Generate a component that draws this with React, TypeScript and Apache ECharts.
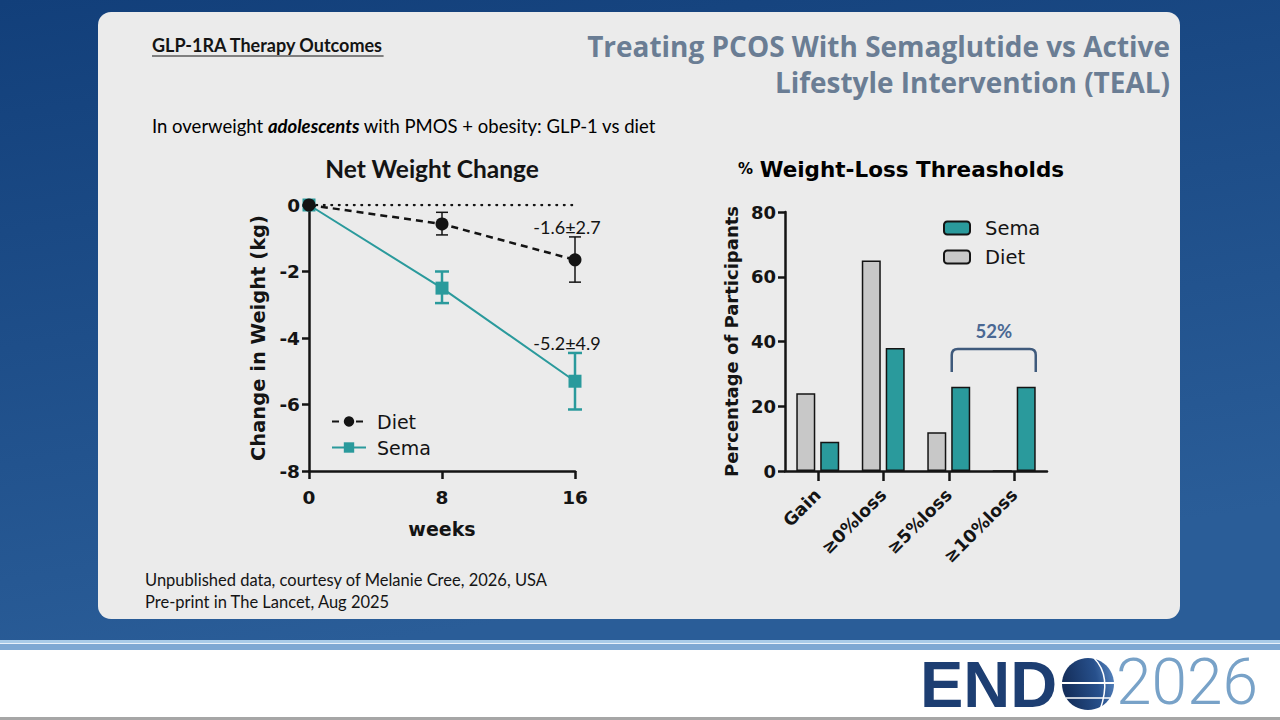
import React, { useEffect, useRef } from 'react';
import * as echarts from 'echarts';

// ---- Left chart: Net Weight Change ----
const weeks = [0, 8, 16];
const dietMean = [0, -0.57, -1.65];
const dietLow = [0, -0.9, -2.32];
const dietHigh = [0, -0.22, -0.96];
const semaMean = [0, -2.5, -5.3];
const semaLow = [0, -2.95, -6.15];
const semaHigh = [0, -2.0, -4.45];
const annotWeek = [16, 16];
const annotValue = [-0.66, -4.15];
const annotTexts = ['-1.6±2.7', '-5.2±4.9'];

// ---- Right chart: % Weight-Loss Thresholds ----
const thresholdCats = ['Gain', '≥0%loss', '≥5%loss', '≥10%loss'];
const dietPct = [24, 65, 12, 0];
const semaPct = [9, 38, 26, 26];
const bracketFrom = 2;
const bracketTo = 3;
const bracketTop = 37.7;
const bracketBottom = 30.6;
const bracketLabel = '52%';

const TITLE_1 = 'Treating PCOS With Semaglutide vs Active';
const TITLE_2 = 'Lifestyle Intervention (TEAL)';

const TEAL = '#2a9a9c';
const INK = '#141414';
const DJ = '"DejaVu Sans", "Liberation Sans", sans-serif';
const CAL = 'Lato, "Open Sans", sans-serif';

function measure(text: string, font: string): number {
  const c = document.createElement('canvas').getContext('2d');
  if (!c) return text.length * 9;
  c.font = font;
  return c.measureText(text).width;
}

export default function App() {
  const ref = useRef<HTMLDivElement>(null);
  useEffect(() => {
    document.body.style.margin = '0';
    const chart = echarts.init(ref.current!, undefined, { renderer: 'svg' });
    const headFont = `bold 18px Lato`;
    const headText = 'GLP-1RA Therapy Outcomes';
    const headW = measure(headText, headFont);
    const titleFamily = '"Open Sans", Lato, sans-serif';
    let titleSize = (583 / measure(TITLE_1, `bold 100px ${titleFamily}`)) * 100;
    if (!isFinite(titleSize) || titleSize > 29) titleSize = 29;
    if (titleSize < 24) titleSize = 24;

    const axisLabelStyle = { fontFamily: DJ, fontWeight: 'bold' as const, fontSize: 18.5, color: INK };

    const option: any = {
      animation: false,
      backgroundColor: '#1b4a85',
      graphic: [
        {
          type: 'rect', z: -20, shape: { x: 0, y: 0, width: 1280, height: 641 },
          style: { fill: new echarts.graphic.LinearGradient(0, 0, 0.3, 1, [{ offset: 0, color: '#123f7a' }, { offset: 1, color: '#2a5d98' }]) },
        },
        { type: 'rect', z: -19, shape: { x: 0, y: 640, width: 1280, height: 3 }, style: { fill: '#a9cbe8' } },
        { type: 'rect', z: -19, shape: { x: 0, y: 643, width: 1280, height: 1 }, style: { fill: '#e8f1fa' } },
        { type: 'rect', z: -19, shape: { x: 0, y: 644, width: 1280, height: 6 }, style: { fill: '#7ea8d3' } },
        { type: 'rect', z: -19, shape: { x: 0, y: 650, width: 1280, height: 70 }, style: { fill: '#ffffff' } },
        { type: 'rect', z: -19, shape: { x: 0, y: 717, width: 1280, height: 3 }, style: { fill: '#a6a6a6' } },
        { type: 'rect', z: -18, shape: { x: 98, y: 12, width: 1082, height: 607, r: 13 }, style: { fill: '#ebebeb' } },
        // header
        { type: 'text', x: 152, y: 45, style: { text: headText, font: headFont, fill: INK, verticalAlign: 'middle' } },
        { type: 'line', shape: { x1: 152, y1: 56, x2: 152 + headW, y2: 56 }, style: { stroke: INK, lineWidth: 1.2 } },
        {
          type: 'text', x: 1170, y: 46,
          style: { text: TITLE_1, fontFamily: titleFamily, fontWeight: 'bold', fontSize: titleSize, fill: '#6a7d94', align: 'right', verticalAlign: 'middle' },
        },
        {
          type: 'text', x: 1170, y: 82,
          style: { text: TITLE_2, fontFamily: titleFamily, fontWeight: 'bold', fontSize: titleSize, fill: '#6a7d94', align: 'right', verticalAlign: 'middle' },
        },
        {
          type: 'text', x: 152, y: 126,
          style: {
            text: '{a|In overweight }{b|adolescents}{a| with PMOS + obesity: GLP-1 vs diet}',
            verticalAlign: 'middle',
            rich: {
              a: { fontFamily: CAL, fontSize: 18.5, color: INK },
              b: { fontFamily: CAL, fontSize: 18.5, color: INK, fontWeight: 'bold', fontStyle: 'italic' },
            },
          },
        },
        // footer
        { type: 'text', x: 145, y: 580, style: { text: 'Unpublished data, courtesy of Melanie Cree, 2026, USA', fontFamily: CAL, fontSize: 16.5, fill: INK, verticalAlign: 'middle' } },
        { type: 'text', x: 145, y: 602, style: { text: 'Pre-print in The Lancet, Aug 2025', fontFamily: CAL, fontSize: 16.5, fill: INK, verticalAlign: 'middle' } },
        // chart titles
        { type: 'text', x: 432, y: 168, style: { text: 'Net Weight Change', font: 'bold 24.5px Lato', fill: INK, align: 'center', verticalAlign: 'middle' } },
        {
          type: 'text', x: 738, y: 169,
          style: {
            text: '{p|%}  {t|Weight-Loss Threasholds}',
            verticalAlign: 'middle',
            rich: {
              p: { fontFamily: DJ, fontSize: 15, fontWeight: 'bold', color: INK },
              t: { fontFamily: DJ, fontSize: 21.5, fontWeight: 'bold', color: INK },
            },
          },
        },
        // logo
        { type: 'text', x: 920, y: 684, style: { text: 'END', font: 'bold 65px "Liberation Sans"', lineHeight: 50, fill: '#1d3e72', verticalAlign: 'middle' } },
        {
          type: 'circle', shape: { cx: 1088, cy: 684, r: 26 },
          style: { fill: new echarts.graphic.LinearGradient(0, 0.2, 1, 0, [{ offset: 0, color: '#152f5c' }, { offset: 0.6, color: '#27508c' }, { offset: 1, color: '#5d8cc6' }]) },
        },
        { type: 'line', shape: { x1: 1062, y1: 683, x2: 1114, y2: 683 }, style: { stroke: '#ffffff', lineWidth: 2 } },
        { type: 'line', shape: { x1: 1066, y1: 698, x2: 1110, y2: 698 }, style: { stroke: '#ffffff', lineWidth: 1.5 } },
        { type: 'bezierCurve', shape: { x1: 1094, y1: 658, cpx1: 1112, cpy1: 676, x2: 1100, y2: 710 }, style: { stroke: '#ffffff', lineWidth: 1.5, fill: 'none' } },
        { type: 'text', x: 1116, y: 682, style: { text: '2026', fontFamily: 'Roboto', fontWeight: 300, fontSize: 64, lineHeight: 50, fill: '#78a2c8', verticalAlign: 'middle' } },
      ],
      legend: [
        {
          data: ['Diet', 'Sema'], orient: 'vertical', left: 326, top: 407, itemWidth: 34, itemHeight: 13, itemGap: 7,
          textStyle: { fontFamily: DJ, fontSize: 19, color: INK, padding: [0, 0, 0, 6] }, selectedMode: false,
        },
        {
          data: ['Sema (%)', 'Diet (%)'], orient: 'vertical', left: 938, top: 213, itemWidth: 26, itemHeight: 13, itemGap: 9,
          formatter: (n: string) => n.replace(' (%)', ''),
          textStyle: { fontFamily: DJ, fontSize: 19.5, color: INK, padding: [0, 0, 0, 10] }, selectedMode: false,
        },
      ],
      grid: [
        { left: 309, top: 205, width: 266, height: 266 },
        { left: 785, top: 212, width: 262, height: 259 },
      ],
      xAxis: [
        {
          type: 'value', gridIndex: 0, min: 0, max: 16, interval: 8,
          axisLine: { show: true, onZero: false, lineStyle: { color: INK, width: 2.5 } },
          axisTick: { show: true, length: 8, lineStyle: { color: INK, width: 2.5 } },
          axisLabel: { ...axisLabelStyle, margin: 17 },
          splitLine: { show: false },
          name: 'weeks', nameLocation: 'middle', nameGap: 48,
          nameTextStyle: { fontFamily: DJ, fontWeight: 'bold', fontSize: 19, color: INK },
        },
        {
          type: 'category', gridIndex: 1, data: thresholdCats,
          axisLine: { show: true, lineStyle: { color: INK, width: 2.5 } },
          axisTick: { show: true, alignWithLabel: true, length: 10, lineStyle: { color: INK, width: 2.5 } },
          axisLabel: { ...axisLabelStyle, fontSize: 17.5, rotate: 45, margin: 21, interval: 0 },
        },
      ],
      yAxis: [
        {
          type: 'value', gridIndex: 0, min: -8, max: 0, interval: 2,
          axisLine: { show: true, lineStyle: { color: INK, width: 2.5 } },
          axisTick: { show: true, length: 7, lineStyle: { color: INK, width: 2.5 } },
          axisLabel: { ...axisLabelStyle, margin: 9 },
          splitLine: { show: false },
          name: 'Change in Weight (kg)', nameLocation: 'middle', nameGap: 41, nameRotate: 90,
          nameTextStyle: { fontFamily: DJ, fontWeight: 'bold', fontSize: 19.5, color: INK },
        },
        {
          type: 'value', gridIndex: 1, min: 0, max: 80, interval: 20,
          axisLine: { show: true, lineStyle: { color: INK, width: 2.5 } },
          axisTick: { show: true, length: 7, lineStyle: { color: INK, width: 2.5 } },
          axisLabel: { ...axisLabelStyle, fontSize: 18, margin: 9 },
          splitLine: { show: false },
          name: 'Percentage of Participants', nameLocation: 'middle', nameGap: 45, nameRotate: 90,
          nameTextStyle: { fontFamily: DJ, fontWeight: 'bold', fontSize: 18, color: INK },
        },
      ],
      series: [
        {
          name: 'zero', type: 'line', xAxisIndex: 0, yAxisIndex: 0, silent: true, symbol: 'none',
          data: [[weeks[0], 0], [weeks[weeks.length - 1], 0]],
          lineStyle: { color: INK, width: 2.5, type: [0.5, 7], cap: 'round' }, z: 1,
        },
        {
          name: 'Sema err', type: 'custom', xAxisIndex: 0, yAxisIndex: 0, silent: true,
          data: weeks.map((w, i) => [w, semaLow[i], semaHigh[i]]).filter((_, i) => i > 0),
          encode: { x: 0, y: [1, 2] },
          renderItem: (_p: any, api: any) => {
            const lo = api.coord([api.value(0), api.value(1)]);
            const hi = api.coord([api.value(0), api.value(2)]);
            const st = { stroke: TEAL, lineWidth: 2.5 };
            return {
              type: 'group', children: [
                { type: 'line', shape: { x1: lo[0], y1: lo[1], x2: hi[0], y2: hi[1] }, style: st },
                { type: 'line', shape: { x1: lo[0] - 7, y1: lo[1], x2: lo[0] + 7, y2: lo[1] }, style: st },
                { type: 'line', shape: { x1: hi[0] - 7, y1: hi[1], x2: hi[0] + 7, y2: hi[1] }, style: st },
              ],
            };
          },
          z: 3,
        },
        {
          name: 'Sema', type: 'line', xAxisIndex: 0, yAxisIndex: 0,
          data: weeks.map((w, i) => [w, semaMean[i]]),
          symbol: 'rect', symbolSize: 13, itemStyle: { color: TEAL },
          lineStyle: { color: TEAL, width: 2 }, z: 4,
        },
        {
          name: 'Diet err', type: 'custom', xAxisIndex: 0, yAxisIndex: 0, silent: true,
          data: weeks.map((w, i) => [w, dietLow[i], dietHigh[i]]).filter((_, i) => i > 0),
          encode: { x: 0, y: [1, 2] },
          renderItem: (_p: any, api: any) => {
            const lo = api.coord([api.value(0), api.value(1)]);
            const hi = api.coord([api.value(0), api.value(2)]);
            const st = { stroke: INK, lineWidth: 1.5 };
            return {
              type: 'group', children: [
                { type: 'line', shape: { x1: lo[0], y1: lo[1], x2: hi[0], y2: hi[1] }, style: st },
                { type: 'line', shape: { x1: lo[0] - 6, y1: lo[1], x2: lo[0] + 6, y2: lo[1] }, style: st },
                { type: 'line', shape: { x1: hi[0] - 6, y1: hi[1], x2: hi[0] + 6, y2: hi[1] }, style: st },
              ],
            };
          },
          z: 5,
        },
        {
          name: 'Diet', type: 'line', xAxisIndex: 0, yAxisIndex: 0,
          data: weeks.map((w, i) => [w, dietMean[i]]),
          symbol: 'circle', symbolSize: 13, itemStyle: { color: INK },
          lineStyle: { color: INK, width: 2.5, type: [7, 5] }, z: 6,
        },
        {
          name: 'annotations', type: 'custom', xAxisIndex: 0, yAxisIndex: 0, silent: true,
          data: annotWeek.map((w, i) => [w, annotValue[i]]),
          encode: { x: 0, y: 1 },
          renderItem: (p: any, api: any) => {
            const c = api.coord([api.value(0), api.value(1)]);
            return {
              type: 'text', x: c[0] - 8, y: c[1],
              style: { text: annotTexts[p.dataIndex], fontFamily: CAL, fontSize: 18, fill: INK, align: 'center', verticalAlign: 'middle' },
            };
          },
          z: 7,
        },
        {
          name: 'Diet (%)', type: 'bar', xAxisIndex: 1, yAxisIndex: 1, data: dietPct,
          barWidth: 19, barGap: '26%',
          itemStyle: { color: '#c8c8c8', borderColor: INK, borderWidth: 1.5 },
        },
        {
          name: 'Sema (%)', type: 'bar', xAxisIndex: 1, yAxisIndex: 1, data: semaPct,
          barWidth: 19, barGap: '26%',
          itemStyle: { color: TEAL, borderColor: INK, borderWidth: 1.5 },
        },
        {
          name: 'bracket', type: 'custom', xAxisIndex: 1, yAxisIndex: 1, silent: true,
          data: [[bracketFrom, bracketTo, bracketTop, bracketBottom]],
          encode: { x: 0, y: 2 },
          renderItem: (_p: any, api: any) => {
            const a = api.coord([api.value(0), api.value(2)]);
            const b = api.coord([api.value(1), api.value(2)]);
            const yb = api.coord([api.value(0), api.value(3)])[1];
            const x1 = a[0] + 3;
            const x2 = b[0] + 21.5;
            const yt = a[1];
            const r = 6;
            const d = `M ${x1} ${yb} L ${x1} ${yt + r} Q ${x1} ${yt} ${x1 + r} ${yt} L ${x2 - r} ${yt} Q ${x2} ${yt} ${x2} ${yt + r} L ${x2} ${yb}`;
            return {
              type: 'group', children: [
                { type: 'path', shape: { pathData: d }, style: { stroke: '#3f5a7c', lineWidth: 2.5, fill: 'none' } },
                {
                  type: 'text', x: (x1 + x2) / 2, y: yt - 18,
                  style: { text: bracketLabel, font: 'bold 18.5px Lato', fill: '#4a6893', align: 'center', verticalAlign: 'middle' },
                },
              ],
            };
          },
          z: 5,
        },
      ],
    };
    chart.setOption(option);
    return () => chart.dispose();
  }, []);
  return <div ref={ref} style={{ position: 'absolute', left: 0, top: 0, width: 1280, height: 720 }} />;
}
